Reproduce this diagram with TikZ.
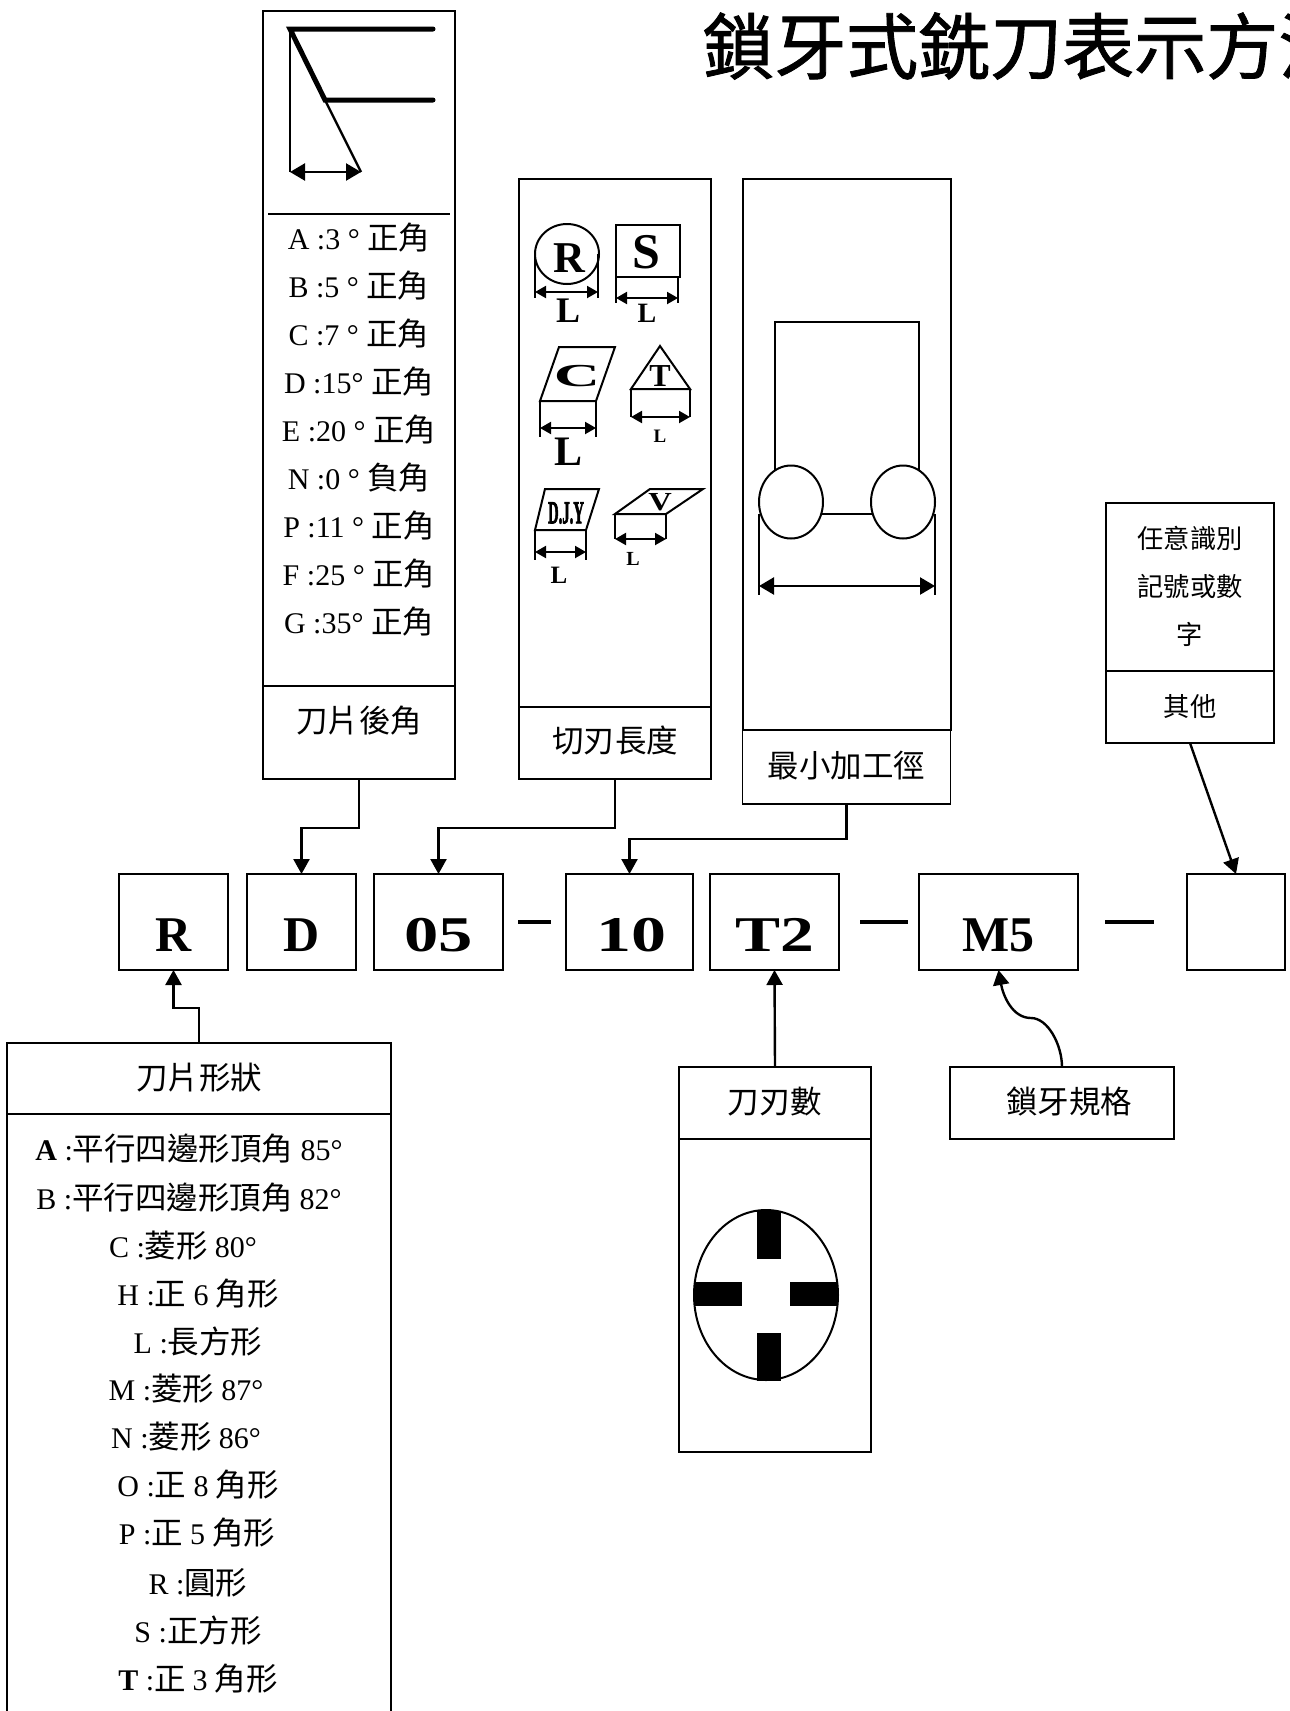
\documentclass[tikz,border=0pt]{standalone}
\usepackage{fontspec}
\setmainfont{Liberation Serif}
\newfontfamily\cj[Scale=1.05]{Noto Sans CJK TC}
\newfontfamily\cjt[FakeBold=1.2]{Noto Sans CJK TC}
\newfontfamily\heavy[FakeBold=3]{Liberation Serif}
\usetikzlibrary{arrows.meta}
\newcommand{\fsz}[1]{\fontsize{#1}{#1}\selectfont}
\tikzset{
  panel/.style={draw,line width=1.8pt,rectangle,inner sep=0pt,outer sep=0pt},
  txt/.style={anchor=base,inner sep=0pt,font=\fsz{30}},
  big/.style={anchor=base,inner sep=0pt,font=\fsz{50}\bfseries},
  conn/.style={draw,line width=2.4pt,-{Triangle[length=15pt,width=16pt]}},
  thick line/.style={line width=5pt,line cap=round},
  fine/.style={line width=2pt},
  dimbig/.style={line width=2.4pt,{Triangle[length=15pt,width=17pt]}-{Triangle[length=15pt,width=17pt]}},
  dim/.style={line width=2pt,{Triangle[length=11pt,width=12pt]}-{Triangle[length=11pt,width=12pt]}},
  shp/.style={line width=2pt,line join=miter},
  ltr/.style={inner sep=0pt,font=\bfseries},
  dashbar/.style={line width=4pt},
}
\begin{document}
\begin{tikzpicture}[x=1pt,y=-1pt]
\clip (0,0) rectangle (1290,1711);
% title
\node[anchor=west,inner sep=0pt,font=\fsz{72}\cjt] (title) at (702,46) {鎖牙式銑刀表示方法};

% panel: 刀片後角
\node[panel,minimum width=192pt,minimum height=768pt] (pA) at (359,395) {};
\node[panel,minimum width=192pt,minimum height=93pt] (pAh) at (359,732.5) {};
\node[txt] (pAt) at (359,732) {\cj 刀片後角};
\coordinate (a1) at (290,29); \coordinate (a2) at (433,29);
\coordinate (a3) at (325,100); \coordinate (a4) at (433,100);
\coordinate (a5) at (361,172); \coordinate (a6) at (290,172);
\coordinate (a7) at (268,214); \coordinate (a8) at (450,214);
\draw[thick line] (a2) -- (a1) -- (a3) -- (a4);
\draw[line width=2.4pt] (a1) -- (a6);
\draw[line width=2.4pt] (a3) -- (a5);
\draw[dimbig] (a6) -- (a5);
\draw[fine] (a7) -- (a8);
\node[txt] (aA) at (359,249) {A :3 ° \cj 正角};
\node[txt] (aB) at (359,297) {B :5 ° \cj 正角};
\node[txt] (aC) at (359,345) {C :7 ° \cj 正角};
\node[txt] (aD) at (359,393) {D :15° \cj 正角};
\node[txt] (aE) at (359,441) {E :20 ° \cj 正角};
\node[txt] (aN) at (359,489) {N :0 ° \cj 負角};
\node[txt] (aP) at (359,537) {P :11 ° \cj 正角};
\node[txt] (aF) at (359,585) {F :25 ° \cj 正角};
\node[txt] (aG) at (359,633) {G :35° \cj 正角};

% panel: 切刃長度
\node[panel,minimum width=192pt,minimum height=600pt] (pB) at (615,479) {};
\node[panel,minimum width=192pt,minimum height=72pt] (pBh) at (615,743) {};
\node[txt] (pBt) at (615,752) {\cj 切刃長度};
% R
\draw[shp] (567,254) circle [x radius=32,y radius=30];
\node[ltr,font=\fsz{44}\bfseries] (iR) at (569,258) {R};
\draw[shp] (535,254) -- (535,298) (598,254) -- (598,298);
\draw[dim] (535,292) -- (598,292);
\node[ltr,font=\fsz{36}\bfseries] (iRL) at (568,311) {L};
% S
\draw[shp,line width=2.4pt] (616,225) rectangle (680,277);
\node[ltr,font=\fsz{50}\bfseries] (iS) at (646,252) {S};
\draw[shp] (616,277) -- (616,303) (678,277) -- (678,303);
\draw[dim] (616,298) -- (678,298);
\node[ltr,font=\fsz{28}\bfseries] (iSL) at (647,313) {L};
% C
\draw[shp] (559,347) -- (615,347) -- (596,401) -- (540,401) -- cycle;
\node[ltr] (iC) at (577,376) {\scalebox{2}[1]{\fsz{32}\bfseries C}};
\draw[shp] (540,401) -- (540,437) (596,401) -- (596,437);
\draw[dim] (540,428) -- (596,428);
\node[ltr,font=\fsz{42}\bfseries] (iCL) at (568,452) {L};
% T
\draw[shp] (660,346) -- (690,389) -- (631,389) -- cycle;
\node[ltr,font=\fsz{32}\bfseries] (iT) at (660,376) {T};
\draw[shp] (631,389) -- (631,417) (690,389) -- (690,417);
\draw[dim] (631,417) -- (690,417);
\node[ltr,font=\fsz{19}\bfseries] (iTL) at (660,436) {L};
% DJY
\draw[shp] (545,489) -- (599,489) -- (586,530) -- (535,530) -- cycle;
\node[ltr] (iD) at (566,513) {\scalebox{0.46}[1]{\fsz{32}\heavy D.J.Y}};
\draw[shp] (535,530) -- (535,560) (586,530) -- (586,560);
\draw[dim] (535,552) -- (586,552);
\node[ltr,font=\fsz{25}\bfseries] (iDL) at (559,575) {L};
% V
\draw[shp] (650,489) -- (703,489) -- (666,514) -- (615,514) -- cycle;
\node[ltr] (iV) at (660,502) {\scalebox{1.25}[1]{\fsz{26}\bfseries V}};
\draw[shp] (615,514) -- (615,539) (666,514) -- (666,539);
\draw[dim] (615,539) -- (666,539);
\node[ltr,font=\fsz{20}\bfseries] (iVL) at (633,559) {L};

% panel: 最小加工徑
\node[panel,minimum width=208pt,minimum height=551pt] (pC) at (847,454.5) {};
\node[panel,minimum width=208pt,minimum height=74pt] (pCh) at (846.5,767) {};
\node[txt] (pCt) at (846.5,777) {\cj 最小加工徑};
\node[panel,minimum width=144pt,minimum height=192pt] (cR) at (847,418) {};
\draw[shp] (759,514) -- (759,595) (935,514) -- (935,595);
\draw[shp,fill=white] (791,502) circle [x radius=32,y radius=36.5];
\draw[shp,fill=white] (903,502) circle [x radius=32,y radius=36.5];
\draw[dimbig] (759,586) -- (935,586);

% panel: 其他
\node[panel,minimum width=168pt,minimum height=240pt] (pD) at (1190,623) {};
\node[panel,minimum width=168pt,minimum height=72pt] (pDh) at (1190,707) {};
\node[txt,font=\fsz{25}\cj] (d1) at (1190,548) {任意識別};
\node[txt,font=\fsz{25}\cj] (d2) at (1190,596) {記號或數};
\node[txt,font=\fsz{25}\cj] (d3) at (1190,644) {字};
\node[txt,font=\fsz{25}\cj] (d4) at (1190,716) {其他};

% code row
\node[panel,minimum width=109pt,minimum height=96pt] (bR) at (173.5,922) {};
\node[panel,minimum width=109pt,minimum height=96pt] (bD) at (301.5,922) {};
\node[panel,minimum width=129pt,minimum height=96pt] (b05) at (438.5,922) {};
\node[panel,minimum width=127pt,minimum height=96pt] (b10) at (629.5,922) {};
\node[panel,minimum width=129pt,minimum height=96pt] (bT) at (774.5,922) {};
\node[panel,minimum width=159pt,minimum height=96pt] (bM) at (998.5,922) {};
\node[panel,minimum width=98pt,minimum height=96pt] (bX) at (1236,922) {};
\node[big] (tR) at (173.5,951) {R};
\node[big] (tD) at (301.5,951) {D};
\node[big] (t05) at (438.5,951) {\scalebox{1.37}[1]{05}};
\node[big] (t10) at (631,951) {\scalebox{1.4}[1]{10}};
\node[big] (tT) at (775,951) {\scalebox{1.35}[1]{T2}};
\node[big] (tM) at (998.5,951) {M5};
\coordinate (s1a) at (518,922); \coordinate (s1b) at (551,922);
\coordinate (s2a) at (860,922); \coordinate (s2b) at (908,922);
\coordinate (s3a) at (1105,922); \coordinate (s3b) at (1154,922);
\draw[dashbar] (s1a) -- (s1b);
\draw[dashbar] (s2a) -- (s2b);
\draw[dashbar] (s3a) -- (s3b);

% panel: 刀片形狀
\node[panel,minimum width=384pt,minimum height=687pt] (pE) at (199,1386.5) {};
\node[panel,minimum width=384pt,minimum height=71pt] (pEh) at (199,1078.5) {};
\node[txt] (pEt) at (199,1089) {\cj 刀片形狀};
\node[txt] (e1) at (189,1160) {\textbf{A} :\cj 平行四邊形頂角 {\rmfamily 85°}};
\node[txt] (e2) at (189,1209) {B :\cj 平行四邊形頂角 {\rmfamily 82°}};
\node[txt] (e3) at (183,1257) {C :\cj 菱形 {\rmfamily 80°}};
\node[txt] (e4) at (198,1305) {H :\cj 正 {\rmfamily 6} 角形};
\node[txt] (e5) at (198,1353) {L :\cj 長方形};
\node[txt] (e6) at (186,1400) {M :\cj 菱形 {\rmfamily 87°}};
\node[txt] (e7) at (186,1448) {N :\cj 菱形 {\rmfamily 86°}};
\node[txt] (e8) at (198,1496) {O :\cj 正 {\rmfamily 8} 角形};
\node[txt] (e9) at (197,1544) {P :\cj 正 {\rmfamily 5} 角形};
\node[txt] (e10) at (198,1594) {R :\cj 圓形};
\node[txt] (e11) at (198,1642) {S :\cj 正方形};
\node[txt] (e12) at (198,1690) {\textbf{T} :\cj 正 {\rmfamily 3} 角形};

% panel: 刀刃數
\node[panel,minimum width=192pt,minimum height=385pt] (pF) at (775,1259.5) {};
\node[panel,minimum width=192pt,minimum height=72pt] (pFh) at (775,1103) {};
\node[txt] (pFt) at (775,1113) {\cj 刀刃數};
\draw[shp] (766,1295) circle [x radius=72,y radius=85];
\fill (757,1211) rectangle (781,1259);
\fill (757,1333) rectangle (781,1381);
\fill (694,1282) rectangle (742,1306);
\fill (790,1282) rectangle (838,1306);

% panel: 鎖牙規格
\node[panel,minimum width=224pt,minimum height=72pt] (pG) at (1062,1103) {};
\node[txt] (pGt) at (1069,1113) {\cj 鎖牙規格};

% connectors
\draw[conn] (pAh.south) -- ++(0,49) -| (bD.north);
\draw[conn] (pBh.south) -- ++(0,49) -| (b05.north);
\draw[conn] (pCh.south) -- ++(0,35) -| (b10.north);
\draw[conn] (pEh.north) -- ++(0,-35) -| (bR.south);
\draw[conn] (pFh.north) -- (bT.south);
\draw[conn] (pDh.south) -- (bX.north);
\coordinate (gm) at (1031,1018);
\draw[conn] (pG.north) .. controls (1062,1045) and (1048,1018) .. (gm) .. controls (1012,1018) and (1003,995) .. (bM.south);
\end{tikzpicture}
\end{document}
